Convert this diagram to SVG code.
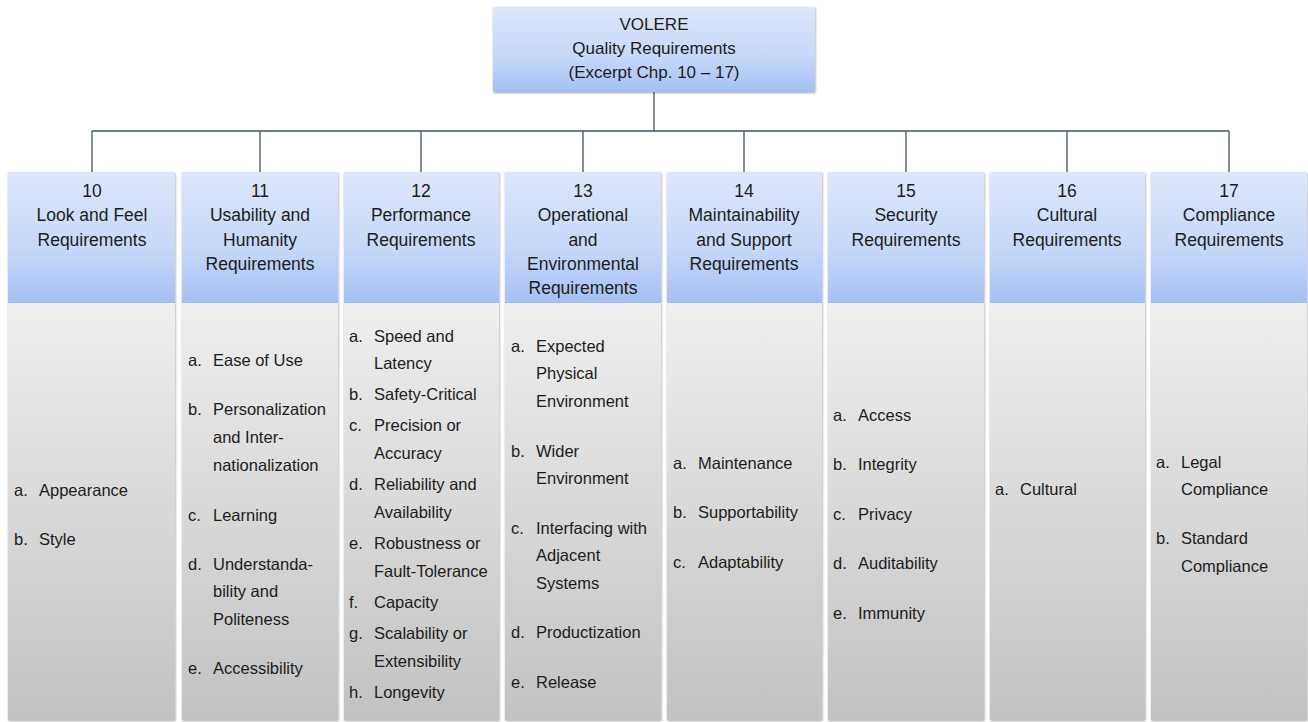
<svg xmlns="http://www.w3.org/2000/svg" width="1308" height="722" viewBox="0 0 1308 722">
<defs>
<linearGradient id="gHead" x1="0" y1="0" x2="0" y2="1">
<stop offset="0" stop-color="#dee7fa"/>
<stop offset="0.6" stop-color="#c6d7f8"/>
<stop offset="1" stop-color="#a3c0f3"/>
</linearGradient>
<linearGradient id="gBody" x1="0" y1="0" x2="0" y2="1">
<stop offset="0" stop-color="#efefef"/>
<stop offset="1" stop-color="#c2c2c2"/>
</linearGradient>
<filter id="sh" x="-5%" y="-5%" width="110%" height="110%">
<feDropShadow dx="0.5" dy="1" stdDeviation="1.3" flood-color="#000" flood-opacity="0.35"/>
</filter>
<style>
.head{fill:url(#gHead);filter:url(#sh)}
.body{fill:url(#gBody);filter:url(#sh)}
.conn{stroke:#3f5170;stroke-width:1.3;fill:none}
.ht{font-family:"Liberation Sans",Arial,sans-serif;font-size:17.5px;fill:#1c1c1c;text-anchor:middle}
.tt{font-family:"Liberation Sans",Arial,sans-serif;font-size:17px;fill:#1c1c1c;text-anchor:middle}
.bt{font-family:"Liberation Sans",Arial,sans-serif;font-size:16.5px;fill:#1c1c1c}
</style>
</defs>
<rect width="1308" height="722" fill="#ffffff"/>
<g id="connectors">
<path class="conn" d="M654 92V131M92 131H1229M92 131V172M260 131V172M421 131V172M583 131V172M744 131V172M906 131V172M1067 131V172M1229 131V172"/>
</g>
<g id="root">
<rect class="head" x="493" y="7" width="322" height="85"/>
<text class="tt" x="654" y="30">VOLERE</text>
<text class="tt" x="654" y="54">Quality Requirements</text>
<text class="tt" x="654" y="78">(Excerpt Chp. 10 – 17)</text>
</g>
<g id="n10">
<rect class="head" x="8" y="172" width="167" height="131"/>
<rect class="body" x="8" y="303" width="167" height="417"/>
<text class="ht" x="92" y="197">10</text>
<text class="ht" x="92" y="221">Look and Feel</text>
<text class="ht" x="92" y="246">Requirements</text>
<g class="bt">
<text x="14" y="496">a.</text><text x="39" y="496">Appearance</text>
<text x="14" y="545">b.</text><text x="39" y="545">Style</text>
</g>
</g>
<g id="n11">
<rect class="head" x="182" y="172" width="156" height="131"/>
<rect class="body" x="182" y="303" width="156" height="417"/>
<text class="ht" x="260" y="197">11</text>
<text class="ht" x="260" y="221">Usability and</text>
<text class="ht" x="260" y="246">Humanity</text>
<text class="ht" x="260" y="270">Requirements</text>
<g class="bt">
<text x="188" y="366">a.</text><text x="213" y="366">Ease of Use</text>
<text x="188" y="415">b.</text><text x="213" y="415">Personalization</text>
<text x="213" y="443">and Inter-</text>
<text x="213" y="471">nationalization</text>
<text x="188" y="521">c.</text><text x="213" y="521">Learning</text>
<text x="188" y="570">d.</text><text x="213" y="570">Understanda-</text>
<text x="213" y="597">bility and</text>
<text x="213" y="625">Politeness</text>
<text x="188" y="674">e.</text><text x="213" y="674">Accessibility</text>
</g>
</g>
<g id="n12">
<rect class="head" x="344" y="172" width="155" height="131"/>
<rect class="body" x="344" y="303" width="155" height="417"/>
<text class="ht" x="421" y="197">12</text>
<text class="ht" x="421" y="221">Performance</text>
<text class="ht" x="421" y="246">Requirements</text>
<g class="bt">
<text x="349" y="342">a.</text><text x="374" y="342">Speed and</text>
<text x="374" y="369">Latency</text>
<text x="349" y="400">b.</text><text x="374" y="400">Safety-Critical</text>
<text x="349" y="431">c.</text><text x="374" y="431">Precision or</text>
<text x="374" y="459">Accuracy</text>
<text x="349" y="490">d.</text><text x="374" y="490">Reliability and</text>
<text x="374" y="518">Availability</text>
<text x="349" y="549">e.</text><text x="374" y="549">Robustness or</text>
<text x="374" y="577">Fault-Tolerance</text>
<text x="349" y="608">f.</text><text x="374" y="608">Capacity</text>
<text x="349" y="639">g.</text><text x="374" y="639">Scalability or</text>
<text x="374" y="667">Extensibility</text>
<text x="349" y="698">h.</text><text x="374" y="698">Longevity</text>
</g>
</g>
<g id="n13">
<rect class="head" x="505" y="172" width="156" height="131"/>
<rect class="body" x="505" y="303" width="156" height="417"/>
<text class="ht" x="583" y="197">13</text>
<text class="ht" x="583" y="221">Operational</text>
<text class="ht" x="583" y="246">and</text>
<text class="ht" x="583" y="270">Environmental</text>
<text class="ht" x="583" y="294">Requirements</text>
<g class="bt">
<text x="511" y="352">a.</text><text x="536" y="352">Expected</text>
<text x="536" y="379">Physical</text>
<text x="536" y="407">Environment</text>
<text x="511" y="457">b.</text><text x="536" y="457">Wider</text>
<text x="536" y="484">Environment</text>
<text x="511" y="534">c.</text><text x="536" y="534">Interfacing with</text>
<text x="536" y="561">Adjacent</text>
<text x="536" y="589">Systems</text>
<text x="511" y="638">d.</text><text x="536" y="638">Productization</text>
<text x="511" y="688">e.</text><text x="536" y="688">Release</text>
</g>
</g>
<g id="n14">
<rect class="head" x="667" y="172" width="155" height="131"/>
<rect class="body" x="667" y="303" width="155" height="417"/>
<text class="ht" x="744" y="197">14</text>
<text class="ht" x="744" y="221">Maintainability</text>
<text class="ht" x="744" y="246">and Support</text>
<text class="ht" x="744" y="270">Requirements</text>
<g class="bt">
<text x="673" y="469">a.</text><text x="698" y="469">Maintenance</text>
<text x="673" y="518">b.</text><text x="698" y="518">Supportability</text>
<text x="673" y="568">c.</text><text x="698" y="568">Adaptability</text>
</g>
</g>
<g id="n15">
<rect class="head" x="828" y="172" width="156" height="131"/>
<rect class="body" x="828" y="303" width="156" height="417"/>
<text class="ht" x="906" y="197">15</text>
<text class="ht" x="906" y="221">Security</text>
<text class="ht" x="906" y="246">Requirements</text>
<g class="bt">
<text x="833" y="421">a.</text><text x="858" y="421">Access</text>
<text x="833" y="470">b.</text><text x="858" y="470">Integrity</text>
<text x="833" y="520">c.</text><text x="858" y="520">Privacy</text>
<text x="833" y="569">d.</text><text x="858" y="569">Auditability</text>
<text x="833" y="619">e.</text><text x="858" y="619">Immunity</text>
</g>
</g>
<g id="n16">
<rect class="head" x="990" y="172" width="155" height="131"/>
<rect class="body" x="990" y="303" width="155" height="417"/>
<text class="ht" x="1067" y="197">16</text>
<text class="ht" x="1067" y="221">Cultural</text>
<text class="ht" x="1067" y="246">Requirements</text>
<g class="bt">
<text x="995" y="495">a.</text><text x="1020" y="495">Cultural</text>
</g>
</g>
<g id="n17">
<rect class="head" x="1151" y="172" width="156" height="131"/>
<rect class="body" x="1151" y="303" width="156" height="417"/>
<text class="ht" x="1229" y="197">17</text>
<text class="ht" x="1229" y="221">Compliance</text>
<text class="ht" x="1229" y="246">Requirements</text>
<g class="bt">
<text x="1156" y="468">a.</text><text x="1181" y="468">Legal</text>
<text x="1181" y="495">Compliance</text>
<text x="1156" y="544">b.</text><text x="1181" y="544">Standard</text>
<text x="1181" y="572">Compliance</text>
</g>
</g>
</svg>
